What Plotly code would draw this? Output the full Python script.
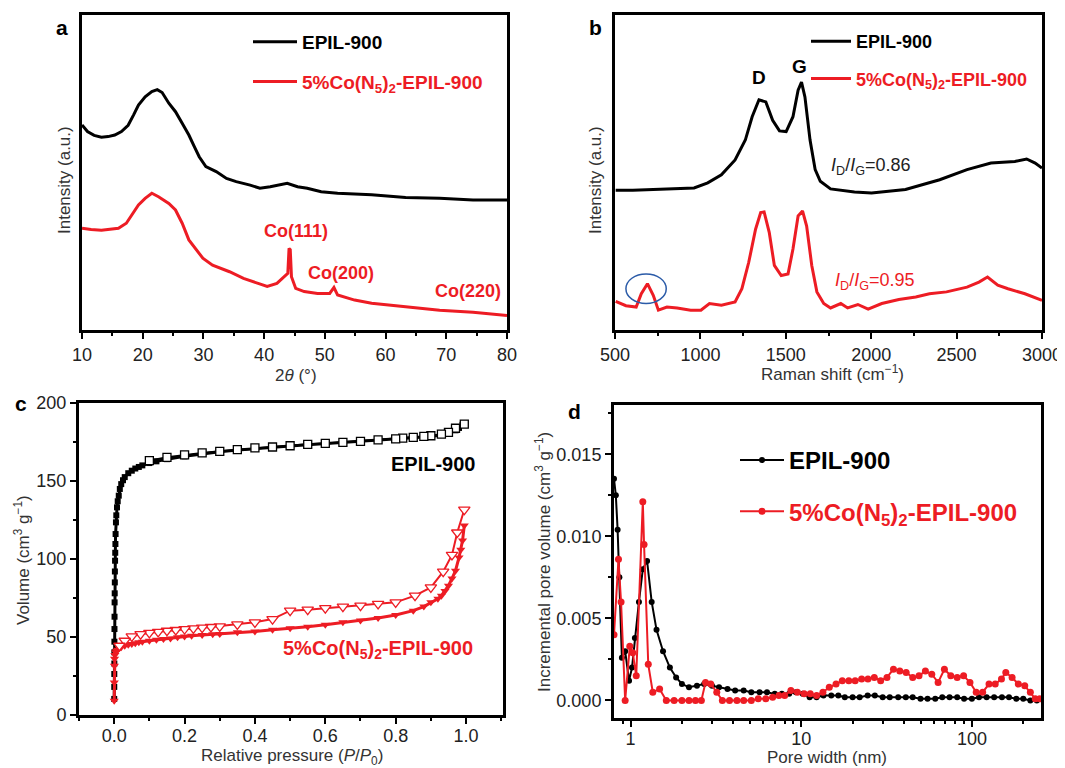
import math
import plotly.graph_objects as go

# The page body adds an 8 px margin, so the figure is drawn 8 px smaller and all
# reference pixel positions are shifted by that offset.
OFF = 8
W, H = 1065 - OFF, 768 - OFF
RED = "#ED1C24"
FONT = "Arial, Liberation Sans, Helvetica, sans-serif"

# ---------------- Panel a: XRD ----------------
xrd_black_x = [10, 10.9, 12, 13.2, 14.3, 15.4, 16.5, 17.6, 18.5, 19.3, 20.4, 21.5, 22.4, 23.2, 24.3,
               25.4, 26.5, 27.6, 28.5, 29.3, 30.4, 32.1, 33.8, 35.4, 37.7, 39.3, 41, 43.8, 45.5,
               47.1, 49.4, 52.1, 57.7, 63.3, 68.9, 74.4, 80]
xrd_black_y = [65.1, 63, 61.8, 61.2, 61.4, 61.9, 63, 65, 68.3, 71.4, 74, 75.7, 76.3, 75.4, 72,
               69.3, 65.6, 61.9, 58.2, 55, 51.9, 50.3, 48.1, 47.1, 46, 45, 45.5, 46.6, 45.5,
               45, 43.9, 43.4, 42.9, 42.1, 41.8, 41.3, 41.3]
xrd_red_x = [10, 11.5, 13.2, 14.5, 16, 17.3, 18.2, 19.3, 20.4, 21.5, 22.6, 24.3, 25.4, 26.5, 27.6,
             28.8, 29.9, 31.5, 34.3, 36.6, 38.8, 40.5, 42.1, 43.2, 43.9, 44.1, 44.3, 44.5, 45.2,
             46.6, 48.8, 50.8, 51.5, 52.1, 54.9, 57.7, 63.3, 68.9, 74.4, 79.4, 80]
xrd_red_y = [32.3, 31.9, 31.7, 32, 32.3, 33.9, 36.5, 39.7, 41.8, 43.4, 42.3, 40.2, 38.1, 33.9, 28.6,
             25.4, 22.8, 20.6, 18.5, 16.4, 14.8, 13.8, 14.8, 16.9, 18, 25.9, 25.5, 16.9, 13.2,
             12.2, 11.6, 11.6, 13.5, 11.1, 9.5, 8.5, 7.4, 6.3, 5.6, 4.8, 4.6]
xrd_peaks = ["Co(111)", "Co(200)", "Co(220)"]
xrd_peak_x = [45.2, 52.7, 73.6]
xrd_peak_y = [31.4, 18.0, 12.5]

# ---------------- Panel b: Raman ----------------
raman_black_x = [504, 604, 804, 963, 1043, 1123, 1203, 1263, 1303, 1343, 1383, 1423, 1463, 1502,
                 1542, 1572, 1592, 1612, 1642, 1672, 1702, 1762, 1902, 2002, 2201, 2401, 2561,
                 2701, 2841, 2910, 2960, 3000]
raman_black_y = [44.4, 44.4, 44.8, 45.1, 46.7, 49.3, 54, 60.3, 67.7, 73.1, 72.4, 66.6, 63.2, 63,
                 67.7, 76.1, 78.7, 74, 60.3, 50.9, 47.2, 44.8, 43.8, 43.5, 44.6, 47.7, 50.9,
                 53, 53.5, 54.3, 53, 51.4]
raman_red_x = [504, 564, 624, 654, 690, 724, 754, 804, 864, 943, 1003, 1053, 1123, 1203, 1243,
               1283, 1323, 1353, 1373, 1403, 1433, 1473, 1513, 1542, 1572, 1598, 1622, 1652,
               1682, 1722, 1762, 1822, 1862, 1922, 1982, 2062, 2162, 2261, 2341, 2441, 2561,
               2631, 2681, 2741, 2801, 2900, 3000]
raman_red_y = [9.1, 7.7, 7.3, 11.5, 14.7, 11, 6.3, 7.3, 7, 6.3, 6.3, 8.4, 7.9, 8.9, 13.1,
               21.5, 32, 37.3, 37.5, 31, 20.5, 17.3, 17.8, 25.7, 36.2, 37.8, 33, 20.5,
               12.1, 8.4, 7, 8.4, 7, 8.1, 6.6, 8.4, 9.7, 10.5, 11.5, 12.1, 13.6,
               15.2, 16.8, 14.2, 13.1, 11.5, 9.4]
ellipse_x = [564, 800]
ellipse_y = [8.4, 17.8]

# ---------------- Panel c: N2 isotherms ----------------
iso_black_ads_x = [0.0001, 0.0002, 0.0003, 0.0004, 0.0005, 0.0006, 0.0008, 0.001, 0.0012, 0.0015,
                   0.0018, 0.002, 0.0025, 0.003, 0.0035, 0.004, 0.005, 0.006, 0.008, 0.01, 0.013,
                   0.016, 0.02, 0.025, 0.03, 0.04, 0.05, 0.06, 0.07, 0.08, 0.1, 0.12, 0.15, 0.2,
                   0.25, 0.3, 0.35, 0.4, 0.45, 0.5, 0.55, 0.6, 0.65, 0.7, 0.75, 0.8, 0.85, 0.9,
                   0.93, 0.95, 0.97, 0.98, 0.99, 0.995]
iso_black_ads_y = [10.3, 18, 26.3, 33, 40.2, 47, 55.1, 63, 72.2, 78, 85, 92, 98.9, 104, 109.6,
                   116, 123.5, 128, 133.1, 137, 140.6, 144.9, 148, 150.5, 152.5, 155, 156.6,
                   158, 159, 160, 161.5, 162.6, 164, 165.8, 167.3, 168.7, 169.8, 170.8, 171.6,
                   172.4, 173.2, 173.9, 174.6, 175.3, 176, 176.7, 177.4, 178.5, 179.5, 180.5,
                   182.5, 184, 186, 187.2]
iso_black_des_x = [0.995, 0.97, 0.95, 0.93, 0.9, 0.88, 0.85, 0.82, 0.8, 0.75, 0.7, 0.65, 0.6,
                   0.55, 0.5, 0.45, 0.4, 0.35, 0.3, 0.25, 0.2, 0.15, 0.1]
iso_black_des_y = [186.5, 183.8, 181.2, 180, 179, 178.6, 178, 177.5, 177, 176.3, 175.4, 174.8,
                   174.1, 173.5, 172.6, 171.8, 171.2, 170.1, 169, 168, 166.7, 165.2, 163]
iso_red_ads_x = [0.0001, 0.0003, 0.0006, 0.001, 0.002, 0.004, 0.007, 0.01, 0.015, 0.02, 0.03,
                 0.04, 0.05, 0.06, 0.07, 0.08, 0.1, 0.12, 0.14, 0.16, 0.18, 0.2, 0.22, 0.25,
                 0.28, 0.3, 0.35, 0.4, 0.45, 0.5, 0.55, 0.6, 0.65, 0.7, 0.75, 0.8, 0.85, 0.88,
                 0.9, 0.92, 0.93, 0.94, 0.95, 0.96, 0.97, 0.98, 0.985, 0.99, 0.995]
iso_red_ads_y = [9.2, 20.9, 31.6, 36, 38.5, 40.2, 41.2, 41.9, 42.8, 43.4, 44.4, 45, 45.5, 46,
                 46.6, 47, 47.6, 48.2, 48.7, 49.1, 49.8, 50.4, 50.8, 51.3, 51.7, 51.9, 53, 53.6,
                 54.7, 55.6, 56.6, 57.9, 59.4, 60.5, 62.2, 64.1, 66.9, 69.5, 72.2, 74.5, 76.5,
                 79.5, 82.9, 87.5, 92.5, 101, 106, 111.8, 121.4]
iso_red_des_x = [0.995, 0.975, 0.96, 0.935, 0.9, 0.855, 0.8, 0.75, 0.7, 0.65, 0.6, 0.55, 0.5,
                 0.45, 0.4, 0.35, 0.3, 0.275, 0.25, 0.225, 0.2, 0.175, 0.15, 0.125, 0.1, 0.075,
                 0.05, 0.03, 0.015]
iso_red_des_y = [131.6, 117, 102.6, 91.9, 81.8, 76.5, 72.2, 71.2, 70.1, 69.5, 68.5, 67.5, 66.9,
                 61.5, 59.4, 58.1, 56.8, 56.4, 56, 55.5, 55.1, 54.5, 54, 53.3, 52.6, 51.8,
                 50.4, 47.6, 44.4]

# ---------------- Panel d: pore size distribution ----------------
psd_black_x = [0.80, 0.82, 0.84, 0.86, 0.89, 0.93, 0.98, 1.02, 1.06, 1.12, 1.18, 1.25, 1.33, 1.42,
               1.55, 1.7, 1.85, 2.0, 2.2, 2.45, 2.7, 3.0, 3.3, 3.7, 4.1, 4.6, 5.1, 5.7, 6.3, 7.0,
               7.7, 8.5, 9.3, 10.2, 11.2, 12.3, 13.5, 15, 16.5, 18, 20, 22, 24.5, 27, 30, 33, 37,
               41, 45, 50, 55, 61, 67, 74, 82, 90, 100, 110, 122, 135, 150, 165, 182, 200, 220, 240]
psd_black_y = [0.0135, 0.0125, 0.0104, 0.0075, 0.0026, 0.0030, 0.0012, 0.0020, 0.0038, 0.0060,
               0.0080, 0.0085, 0.0060, 0.0043, 0.0030, 0.0020, 0.0014, 0.0010, 0.0008, 0.0009,
               0.0010, 0.0009, 0.0008, 0.0007, 0.0006, 0.0006, 0.0005, 0.0005, 0.0005, 0.0004,
               0.0004, 0.0004, 0.0005, 0.0004, 0.0002, 0.0002, 0.0003, 0.0003, 0.0003, 0.0002,
               0.0002, 0.0002, 0.0003, 0.0003, 0.0002, 0.0002, 0.0002, 0.0002, 0.0002, 0.0001,
               0.0001, 0.0001, 0.0002, 0.0002, 0.0002, 0.0001, 0.0001, 0.0002, 0.0002, 0.0002,
               0.0002, 0.0002, 0.0001, 0.0001, 0.0, 0.0]
psd_red_x = [0.80, 0.85, 0.88, 0.93, 0.99, 1.03, 1.08, 1.18, 1.2, 1.27, 1.35, 1.48, 1.62, 1.8,
             2.0, 2.2, 2.4, 2.6, 2.75, 2.95, 3.2, 3.45, 3.8, 4.2, 4.6, 5.1, 5.6, 6.2, 6.8, 7.4,
             8.0, 8.7, 9.5, 10.4, 11.3, 12.3, 13.4, 14.6, 16, 17.4, 19, 20.7, 22.6, 24.6, 26.8,
             29.2, 31.8, 34.7, 37.8, 41.2, 45, 49, 53.4, 58.2, 63.4, 69, 75.2, 82, 89.4, 97.4,
             106, 115.6, 126, 137, 149, 158, 172, 187, 204, 220, 235, 250]
psd_red_y = [0.0040, 0.0086, 0.0060, 0.0, 0.0033, 0.0029, 0.0015, 0.0121, 0.0095, 0.0022, 0.0005,
             0.0007, 0.0, 0.0, 0.0, 0.0, 0.0, 0.0, 0.0011, 0.0010, 0.0005, 0.0, 0.0, 0.0, 0.0,
             0.0, 0.0001, 0.0001, 0.0002, 0.0003, 0.0003, 0.0006, 0.0005, 0.0004, 0.0004,
             0.0003, 0.0005, 0.0008, 0.0010, 0.0012, 0.0012, 0.0012, 0.0013, 0.0013, 0.0014,
             0.0012, 0.0014, 0.0019, 0.0018, 0.0017, 0.0014, 0.0015, 0.0018, 0.0016, 0.0011,
             0.0019, 0.0015, 0.0014, 0.0015, 0.0011, 0.0005, 0.0005, 0.0010, 0.0010, 0.0013,
             0.0017, 0.0014, 0.0010, 0.0009, 0.0005, 0.0001, 0.0001]

NAME_BLACK = "<b>EPIL-900</b>"
NAME_RED = "<span style='color:%s'><b>5%%Co(N<sub>5</sub>)<sub>2</sub>-EPIL-900</b></span>" % RED


def px(x):
    return (x - OFF) / W


def py(y):
    return 1 - (y - OFF) / H


fig = go.Figure()

# Panel a traces
fig.add_trace(go.Scatter(x=xrd_black_x, y=xrd_black_y, mode="lines", name=NAME_BLACK,
                         line=dict(color="black", width=3), xaxis="x", yaxis="y",
                         legend="legend", legendgroup="a1"))
fig.add_trace(go.Scatter(x=xrd_red_x, y=xrd_red_y, mode="lines", name=NAME_RED,
                         line=dict(color=RED, width=3), xaxis="x", yaxis="y",
                         legend="legend", legendgroup="a2"))
# Panel b traces
fig.add_trace(go.Scatter(x=raman_black_x, y=raman_black_y, mode="lines", name=NAME_BLACK,
                         line=dict(color="black", width=3), xaxis="x2", yaxis="y2",
                         legend="legend2", legendgroup="b1"))
fig.add_trace(go.Scatter(x=raman_red_x, y=raman_red_y, mode="lines", name=NAME_RED,
                         line=dict(color=RED, width=3), xaxis="x2", yaxis="y2",
                         legend="legend2", legendgroup="b2"))
# Panel c traces
fig.add_trace(go.Scatter(x=iso_black_ads_x, y=iso_black_ads_y, mode="lines+markers", showlegend=False,
                         line=dict(color="black", width=3),
                         marker=dict(symbol="square", size=6, color="black"),
                         xaxis="x3", yaxis="y3"))
fig.add_trace(go.Scatter(x=iso_black_des_x, y=iso_black_des_y, mode="lines+markers", showlegend=False,
                         line=dict(color="black", width=2),
                         marker=dict(symbol="square", size=8, color="white",
                                     line=dict(color="black", width=1.3)),
                         xaxis="x3", yaxis="y3"))
fig.add_trace(go.Scatter(x=iso_red_ads_x, y=iso_red_ads_y, mode="lines+markers", showlegend=False,
                         line=dict(color=RED, width=3),
                         marker=dict(symbol="triangle-down", size=8, color=RED),
                         xaxis="x3", yaxis="y3"))
fig.add_trace(go.Scatter(x=iso_red_des_x, y=iso_red_des_y, mode="lines+markers", showlegend=False,
                         line=dict(color=RED, width=2),
                         marker=dict(symbol="triangle-down", size=10, color="white",
                                     line=dict(color=RED, width=1.3)),
                         xaxis="x3", yaxis="y3"))
# Panel d traces
fig.add_trace(go.Scatter(x=psd_black_x, y=psd_black_y, mode="lines+markers", name=NAME_BLACK,
                         line=dict(color="black", width=2),
                         marker=dict(symbol="circle", size=6, color="black"),
                         xaxis="x4", yaxis="y4", legend="legend4", legendgroup="d1"))
fig.add_trace(go.Scatter(x=psd_red_x, y=psd_red_y, mode="lines+markers", name=NAME_RED,
                         line=dict(color=RED, width=2),
                         marker=dict(symbol="circle", size=7, color=RED),
                         xaxis="x4", yaxis="y4", legend="legend4", legendgroup="d2"))

axis_common = dict(showline=True, linecolor="black", linewidth=3, mirror=True, showgrid=False,
                   zeroline=False, ticks="outside", tickcolor="black", tickwidth=2, ticklen=6,
                   automargin=False,
                   tickfont=dict(family=FONT, size=18, color="#222"))
minor_common = dict(ticks="outside", ticklen=3, tickwidth=2, tickcolor="black", showgrid=False)

dom_a_x = [px(82), px(507)]
dom_b_x = [px(615), px(1042)]
dom_top_y = [py(330), py(15)]
dom_c_x = [px(79), px(503)]
dom_c_y = [py(715), py(403)]
dom_d_x = [px(614), px(1041)]
dom_d_y = [py(718), py(405)]

fig.update_layout(
    template="none",
    width=W, height=H, margin=dict(l=0, r=0, t=0, b=0, pad=0, autoexpand=False),
    paper_bgcolor="white", plot_bgcolor="white",
    font=dict(family=FONT, color="black"),
    xaxis=dict(axis_common, domain=dom_a_x, range=[10, 80], tick0=10, dtick=10,
               minor=dict(minor_common, dtick=5, tick0=10), anchor="y"),
    yaxis=dict(axis_common, domain=dom_top_y, range=[0, 100], ticks="", showticklabels=False,
               anchor="x"),
    xaxis2=dict(axis_common, domain=dom_b_x, range=[500, 3000], tick0=500, dtick=500,
                minor=dict(minor_common, dtick=250, tick0=500), anchor="y2"),
    yaxis2=dict(axis_common, domain=dom_top_y, range=[0, 100], ticks="", showticklabels=False,
                anchor="x2"),
    xaxis3=dict(axis_common, domain=dom_c_x, range=[-0.1, 1.105], tick0=0, dtick=0.2,
                tickformat=".1f", minor=dict(minor_common, dtick=0.1, tick0=0), anchor="y3",
                ticklabelstandoff=-4),
    yaxis3=dict(axis_common, domain=dom_c_y, range=[0, 200], tick0=0, dtick=50,
                minor=dict(minor_common, dtick=25, tick0=0), anchor="x3"),
    xaxis4=dict(axis_common, domain=dom_d_x, type="log",
                range=[math.log10(0.8), math.log10(254)],
                tickmode="array", tickvals=[1, 10, 100], ticktext=["1", "10", "100"],
                minor=dict(minor_common, tickmode="array",
                           tickvals=[0.9, 2, 3, 4, 5, 6, 7, 8, 9, 20, 30, 40, 50, 60, 70, 80, 90, 200]),
                anchor="y4", ticklabelstandoff=-4),
    yaxis4=dict(axis_common, domain=dom_d_y, range=[-0.00107, 0.018], tick0=0, dtick=0.005,
                tickformat=".3f", minor=dict(minor_common, dtick=0.0025, tick0=0), anchor="x4"),
    legend=dict(x=px(248), y=py(23), xanchor="left", yanchor="top", bgcolor="rgba(0,0,0,0)",
                font=dict(family=FONT, size=19, color="black"), tracegroupgap=12,
                itemwidth=44, traceorder="grouped"),
    legend2=dict(x=px(806), y=py(23), xanchor="left", yanchor="top", bgcolor="rgba(0,0,0,0)",
                 font=dict(family=FONT, size=18, color="black"), tracegroupgap=11,
                 itemwidth=40, traceorder="grouped"),
    legend4=dict(x=px(735), y=py(438), xanchor="left", yanchor="top", bgcolor="rgba(0,0,0,0)",
                 font=dict(family=FONT, size=24, color="black"), tracegroupgap=17,
                 itemwidth=44, traceorder="grouped"),
)

ann = []
title_font = dict(family=FONT, size=17, color="#333")


def paper_text(text, x, y, angle=0, font=None):
    ann.append(dict(text=text, x=px(x), y=py(y), xref="paper", yref="paper", showarrow=False,
                    xanchor="center", yanchor="middle", textangle=angle, font=font or title_font))


paper_text("2<i>θ</i> (°)", 296, 375)
paper_text("Intensity (a.u.)", 64, 180, -90)
paper_text("Raman shift (cm<sup>−1</sup>)", 832, 373)
paper_text("Intensity (a.u.)", 595, 180, -90)
paper_text("Relative pressure (<i>P</i>/<i>P</i><sub>0</sub>)", 292, 757)
paper_text("Volume (cm<sup>3</sup> g<sup>−1</sup>)", 22, 560, -90)
paper_text("Pore width (nm)", 827, 757)
paper_text("Incremental pore volume (cm<sup>3</sup> g<sup>−1</sup>)", 543, 562, -90)

label_font = dict(family=FONT, size=21, color="black")
for lab, x, y in [("a", 62, 28), ("b", 595, 28), ("c", 21, 404), ("d", 574, 411)]:
    paper_text("<b>%s</b>" % lab, x, y, font=label_font)

# data annotations
for t, x, y in zip(xrd_peaks, xrd_peak_x, xrd_peak_y):
    ann.append(dict(text="<b>%s</b>" % t, x=x, y=y, xref="x", yref="y", showarrow=False,
                    font=dict(family=FONT, size=18, color=RED)))
ann.append(dict(text="<b>D</b>", x=1343, y=80, xref="x2", yref="y2", showarrow=False,
                font=dict(family=FONT, size=19, color="black")))
ann.append(dict(text="<b>G</b>", x=1582, y=83.7, xref="x2", yref="y2", showarrow=False,
                font=dict(family=FONT, size=19, color="black")))
ann.append(dict(text="<i>I</i><sub>D</sub>/<i>I</i><sub>G</sub>=0.86", x=1998, y=52, xref="x2",
                yref="y2", showarrow=False, font=dict(family=FONT, size=18, color="#222")))
ann.append(dict(text="<i>I</i><sub>D</sub>/<i>I</i><sub>G</sub>=0.95", x=2022, y=15.4, xref="x2",
                yref="y2", showarrow=False, font=dict(family=FONT, size=18, color=RED)))
ann.append(dict(text="<b>EPIL-900</b>", x=0.907, y=160.9, xref="x3", yref="y3", showarrow=False,
                font=dict(family=FONT, size=20, color="black")))
ann.append(dict(text="<b>5%Co(N<sub>5</sub>)<sub>2</sub>-EPIL-900</b>", x=0.749, y=42.3, xref="x3",
                yref="y3", showarrow=False, font=dict(family=FONT, size=20, color=RED)))

fig.update_layout(annotations=ann)

fig.add_shape(type="circle", xref="x2", yref="y2", x0=ellipse_x[0], x1=ellipse_x[1],
              y0=ellipse_y[0], y1=ellipse_y[1], line=dict(color="#2B5BA8", width=1.5))

fig.write_html("out.html")
